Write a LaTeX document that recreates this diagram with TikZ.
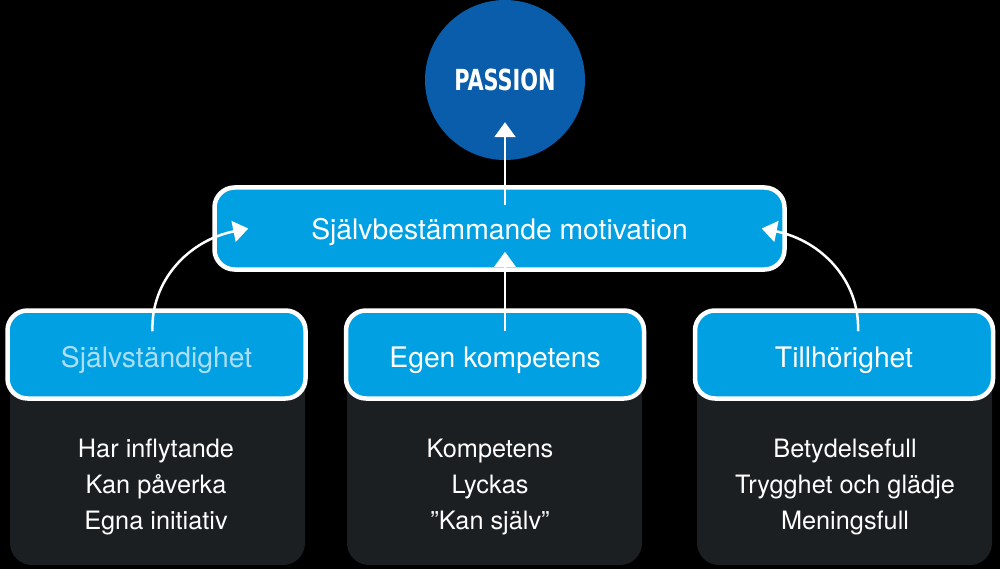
\documentclass[tikz,border=0pt]{standalone}
\usepackage{fontspec}
\setmainfont{TeX Gyre Heros}
\newfontfamily\passionfont{DejaVu Sans Condensed Bold}[FakeStretch=0.8]
\usetikzlibrary{calc,positioning,arrows.meta}
\definecolor{boxblue}{RGB}{0,160,227}
\definecolor{circleblue}{RGB}{10,93,171}
\definecolor{listgray}{RGB}{27,31,34}
\definecolor{paleblue}{RGB}{172,222,246}

\begin{document}
\begin{tikzpicture}[x=1pt, y=-1pt, >={Triangle[width=21pt,length=15pt]},
  keybox/.style={draw=white, line width=4.5pt, fill=boxblue, rounded corners=20pt,
    text=white, font=\fontsize{28.3}{32}\selectfont, text height=26pt, text depth=0pt,
    minimum width=298pt, minimum height=88pt},
  listbox/.style={fill=listgray, rounded corners=22pt, minimum height=195pt},
  listtext/.style={text=white, align=center, font=\fontsize{25.3}{36}\selectfont},
  link/.style={white, line width=2.5pt, ->}]

  % --- Canvas ---
  \fill[black] (0,0) rectangle (1000,569);
  \useasboundingbox (0,0) rectangle (1000,569);

  % --- Goal ---
  \node[circle, fill=circleblue, minimum size=160pt, inner sep=0pt, text=white,
        font=\passionfont\fontsize{29}{32}\selectfont] (passion) at (505,80) {PASSION};

  % --- Dark lists (behind the blue boxes) ---
  \node[listbox, minimum width=295pt] (autoback) at (157.5,467.5) {};
  \node[listbox, minimum width=295pt] (compback) at (494.5,467.5) {};
  \node[listbox, minimum width=295pt] (belongback) at (844.5,467.5) {};

  \node[listtext] (autolist) at (156,487) {Har inflytande\\Kan påverka\\Egna initiativ};
  \node[listtext] (complist) at (490,487) {Kompetens\\Lyckas\\”Kan själv”};
  \node[listtext] (belonglist) at (845,487) {Betydelsefull\\Trygghet och glädje\\Meningsfull};

  % --- Blue boxes ---
  \node[keybox, minimum width=570pt, minimum height=82pt, text height=23pt]
    (motivation) at (499.5,228.5) {Självbestämmande motivation};
  \node[keybox, text=paleblue] (autonomy) at (156.5,354.5) {Självständighet};
  \node[keybox] (competence) at (495,354.5) {Egen kompetens};
  \node[keybox] (belonging) at (844,354.5) {Tillhörighet};

  % --- Arrow ends ---
  \coordinate (autofoot) at ($(autonomy.north)+(-4,23)$);
  \coordinate (compfoot) at ($(competence.north)+(10,23)$);
  \coordinate (belongfoot) at ($(belonging.north)+(14,23)$);
  \coordinate (motleft) at ($(motivation.west)+(36,0)$);
  \coordinate (motright) at ($(motivation.east)+(-25,0)$);
  \coordinate (motmid) at ($(motivation.south)+(5.5,-20)$);
  \coordinate (mottop) at ($(motivation.north)+(5.5,20)$);
  \coordinate (passionfoot) at ($(passion.south)+(0,-38)$);

  % --- Arrows ---
  \draw[link] (autofoot) .. controls +(-2,-50) and +(-60,12) .. (motleft);
  \draw[link] (belongfoot) .. controls +(2,-50) and +(60,12) .. (motright);
  \draw[link] (compfoot) -- (motmid);
  \draw[link] (mottop) -- (passionfoot);

\end{tikzpicture}
\end{document}
